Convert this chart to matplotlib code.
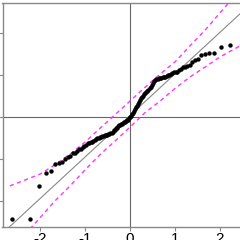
import matplotlib
matplotlib.use("Agg")
import matplotlib.pyplot as plt
import numpy as np
from statistics import NormalDist

plt.rcParams['font.family'] = ['Liberation Sans', 'DejaVu Sans']
plt.rcParams['axes.unicode_minus'] = False

# sorted sample values
sample = [-2.44, -2.44, -1.64, -1.34, -1.29, -1.11, -1.09, -1.06, -1.01, -0.96,
          -0.92, -0.86, -0.85, -0.81, -0.77, -0.75, -0.71, -0.69, -0.66, -0.63,
          -0.61, -0.60, -0.59, -0.57, -0.55, -0.52, -0.51, -0.50, -0.48, -0.48,
          -0.46, -0.45, -0.44, -0.43, -0.42, -0.41, -0.40, -0.39, -0.37, -0.35,
          -0.32, -0.30, -0.27, -0.25, -0.22, -0.20, -0.19, -0.17, -0.16, -0.14,
          -0.13, -0.11, -0.10, -0.08, -0.06, -0.03, -0.01, 0.02, 0.06, 0.10,
          0.14, 0.19, 0.23, 0.26, 0.31, 0.36, 0.40, 0.45, 0.48, 0.51,
          0.54, 0.56, 0.60, 0.62, 0.64, 0.68, 0.71, 0.75, 0.81, 0.86,
          0.88, 0.90, 0.91, 0.92, 0.93, 0.94, 0.95, 0.95, 0.96, 0.98,
          0.99, 1.01, 1.02, 1.04, 1.06, 1.06, 1.08, 1.12, 1.14, 1.18,
          1.19, 1.21, 1.23, 1.32, 1.35, 1.37, 1.48, 1.51, 1.52, 1.53,
          1.67, 1.71, 2.00]

# reference line
line_intercept = 0.036
line_slope = 0.99

# confidence envelope
upper_x = [-2.67, -2.33, -2.0, -1.67, -1.33, -1.0, -0.78, -0.44, 0.0, 0.44, 0.78, 1.0, 1.33, 1.67, 2.0, 2.33]
upper_y = [-1.64, -1.50, -1.36, -1.14, -0.88, -0.60, -0.38, -0.05, 0.38, 0.81, 1.12, 1.31, 1.69, 2.07, 2.48, 2.88]
lower_x = [-2.33, -2.2, -2.0, -1.67, -1.33, -1.0, -0.67, -0.33, 0.0, 0.33, 0.67, 1.0, 1.33, 1.67, 2.0, 2.44, 2.67]
lower_y = [-2.81, -2.64, -2.40, -2.00, -1.64, -1.26, -0.90, -0.57, -0.24, 0.10, 0.38, 0.68, 0.95, 1.19, 1.43, 1.69, 1.81]

xticks = [-2, -1, 0, 1, 2]
yticks = [-2, -1, 0, 1, 2]

n = len(sample)
nd = NormalDist()
theo = [nd.inv_cdf((i + 0.5) / n) for i in range(n)]

fig = plt.figure(figsize=(2.4, 2.4), dpi=100)
# plot box is cropped: left edge at 2.5px, right edge beyond the picture
ax = fig.add_axes([2.5 / 240, 12.7 / 240, 247.5 / 240, 224.8 / 240])
ax.set_xlim(-2.833, 2.667)
ax.set_ylim(-2.626, 2.726)

ax.axhline(0, color='#666666', lw=0.8, zorder=1)
ax.axvline(0, color='#666666', lw=0.8, zorder=1)

xs = np.array([-3.5, 3.5])
ax.plot(xs, line_intercept + line_slope * xs, color='#888888', lw=0.8, zorder=2)

ax.plot(upper_x, upper_y, color='#ff33ff', lw=1.0, ls=(0, (3, 2.5)), zorder=3)
ax.plot(lower_x, lower_y, color='#ff33ff', lw=1.0, ls=(0, (3, 2.5)), zorder=3)

ax.scatter(theo, sample, s=10, color='black', linewidths=0, zorder=4)

for sp in ax.spines.values():
    sp.set_color('#888888')
    sp.set_linewidth(1.0)

ax.set_xticks(xticks)
ax.set_xticklabels([str(t) for t in xticks])
ax.set_yticks(yticks)
ax.set_yticklabels([str(t) for t in yticks])
ax.tick_params(axis='x', length=3, width=0.8, color='#888888', pad=0.5, labelsize=11)
ax.tick_params(axis='y', length=5, width=0.8, color='#888888', labelsize=10)

fig.savefig("out.png", dpi=100)
